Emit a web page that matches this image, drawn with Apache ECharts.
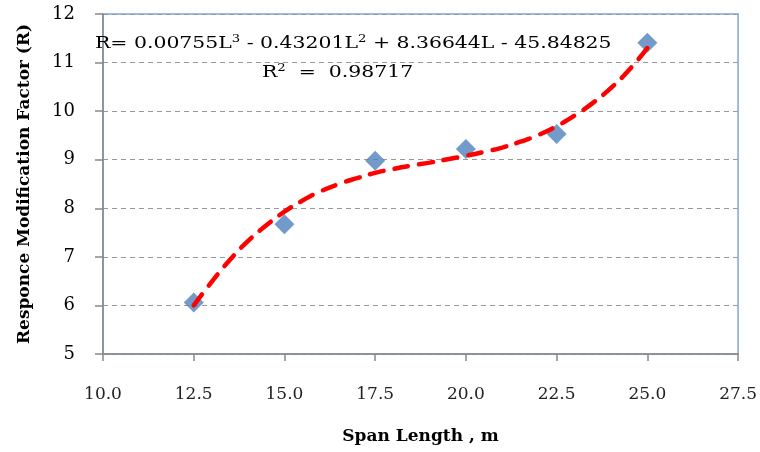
<!DOCTYPE html>
<html>
<head>
<meta charset="utf-8">
<script src="https://cdn.jsdelivr.net/npm/echarts@6/dist/echarts.min.js"></script>
<style>html,body{margin:0;padding:0;background:#fff}#c{width:760px;height:452px}</style>
</head>
<body>
<div id="c"></div>
<script>
// Observed data points (span length, m -> response modification factor)
var spanLength = [12.5, 15, 17.5, 20, 22.5, 25];
var factorR = [6.06, 7.67, 8.98, 9.22, 9.53, 11.41];

// Trend curve
var trendL = [12.5, 13, 13.5, 14, 14.5, 15, 15.5, 16, 16.5, 17, 17.5, 18, 18.5, 19, 19.5, 20, 20.5, 21, 21.5, 22, 22.5, 23, 23.5, 24, 24.5, 25];
var trendR = [6.0, 6.49, 6.94, 7.33, 7.65, 7.93, 8.16, 8.35, 8.5, 8.62, 8.73, 8.81, 8.88, 8.94, 9.01, 9.08, 9.16, 9.25, 9.37, 9.51, 9.69, 9.91, 10.17, 10.48, 10.85, 11.3];

var xTicks = [10, 12.5, 15, 17.5, 20, 22.5, 25, 27.5];
var yTicks = [5, 6, 7, 8, 9, 10, 11, 12];

var equationText = 'R= 0.00755L{sup|3} - 0.43201L{sup|2} + 8.36644L - 45.84825';
var r2Text = 'R{sup|2}  =  0.98717';
var xName = 'Span Length , m';
var yName = 'Responce Modification Factor (R)';

var serif = '"DejaVu Serif", "Liberation Serif", serif';

var chart = echarts.init(document.getElementById('c'));
chart.setOption({
  animation: false,
  backgroundColor: '#fff',
  grid: { left: 103, right: 21, top: 14, bottom: 98, show: true, borderColor: '#7ea6d8', borderWidth: 1.5, backgroundColor: 'transparent' },
  xAxis: {
    type: 'value', min: xTicks[0], max: xTicks[xTicks.length - 1], interval: 2.5,
    name: xName, nameLocation: 'middle', nameGap: 74,
    nameTextStyle: { fontFamily: serif, fontWeight: 'bold', fontSize: 17, color: '#000' },
    axisLine: { onZero: false, lineStyle: { color: '#888', width: 1.5 } },
    axisTick: { show: true, length: 7, lineStyle: { color: '#888', width: 1.5 } },
    axisLabel: { margin: 32, fontFamily: serif, fontSize: 17, color: '#222', formatter: function (v) { return v.toFixed(1); } },
    splitLine: { show: false }
  },
  yAxis: {
    type: 'value', min: yTicks[0], max: yTicks[yTicks.length - 1], interval: 1,
    name: yName, nameLocation: 'middle', nameGap: 70,
    nameTextStyle: { fontFamily: serif, fontWeight: 'bold', fontSize: 17, color: '#000' },
    axisLine: { onZero: false, lineStyle: { color: '#888', width: 1.5 } },
    axisTick: { show: true, length: 8, lineStyle: { color: '#888', width: 1.5 } },
    axisLabel: { margin: 28, fontFamily: serif, fontSize: 18, color: '#000' },
    splitLine: { show: true, lineStyle: { color: '#999', type: [5, 4], width: 1.2 } }
  },
  series: [
    {
      type: 'scatter', data: spanLength.map(function (x, i) { return [x, factorR[i]]; }),
      symbol: 'diamond', symbolSize: [20, 20], itemStyle: { color: '#4f81bd' }, z: 2
    },
    {
      type: 'line', data: trendL.map(function (x, i) { return [x, trendR[i]]; }),
      smooth: true, showSymbol: false, symbol: 'none',
      lineStyle: { color: '#ff0000', width: 4.5, type: [14, 11], cap: 'round' }, z: 3
    }
  ],
  graphic: [
    {
      type: 'text', x: 95, y: 34, scaleX: 1.2, z: 10,
      style: {
        x: 0, y: 0, text: equationText, fontFamily: serif, fontSize: 17, fill: '#000',
        rich: { sup: { fontFamily: serif, fontSize: 11, padding: [0, 0, 8, 0] } }
      }
    },
    {
      type: 'text', x: 262, y: 63, scaleX: 1.2, z: 10,
      style: {
        x: 0, y: 0, text: r2Text, fontFamily: serif, fontSize: 17, fill: '#000',
        rich: { sup: { fontFamily: serif, fontSize: 11, padding: [0, 0, 8, 0] } }
      }
    }
  ]
});
</script>
</body>
</html>
